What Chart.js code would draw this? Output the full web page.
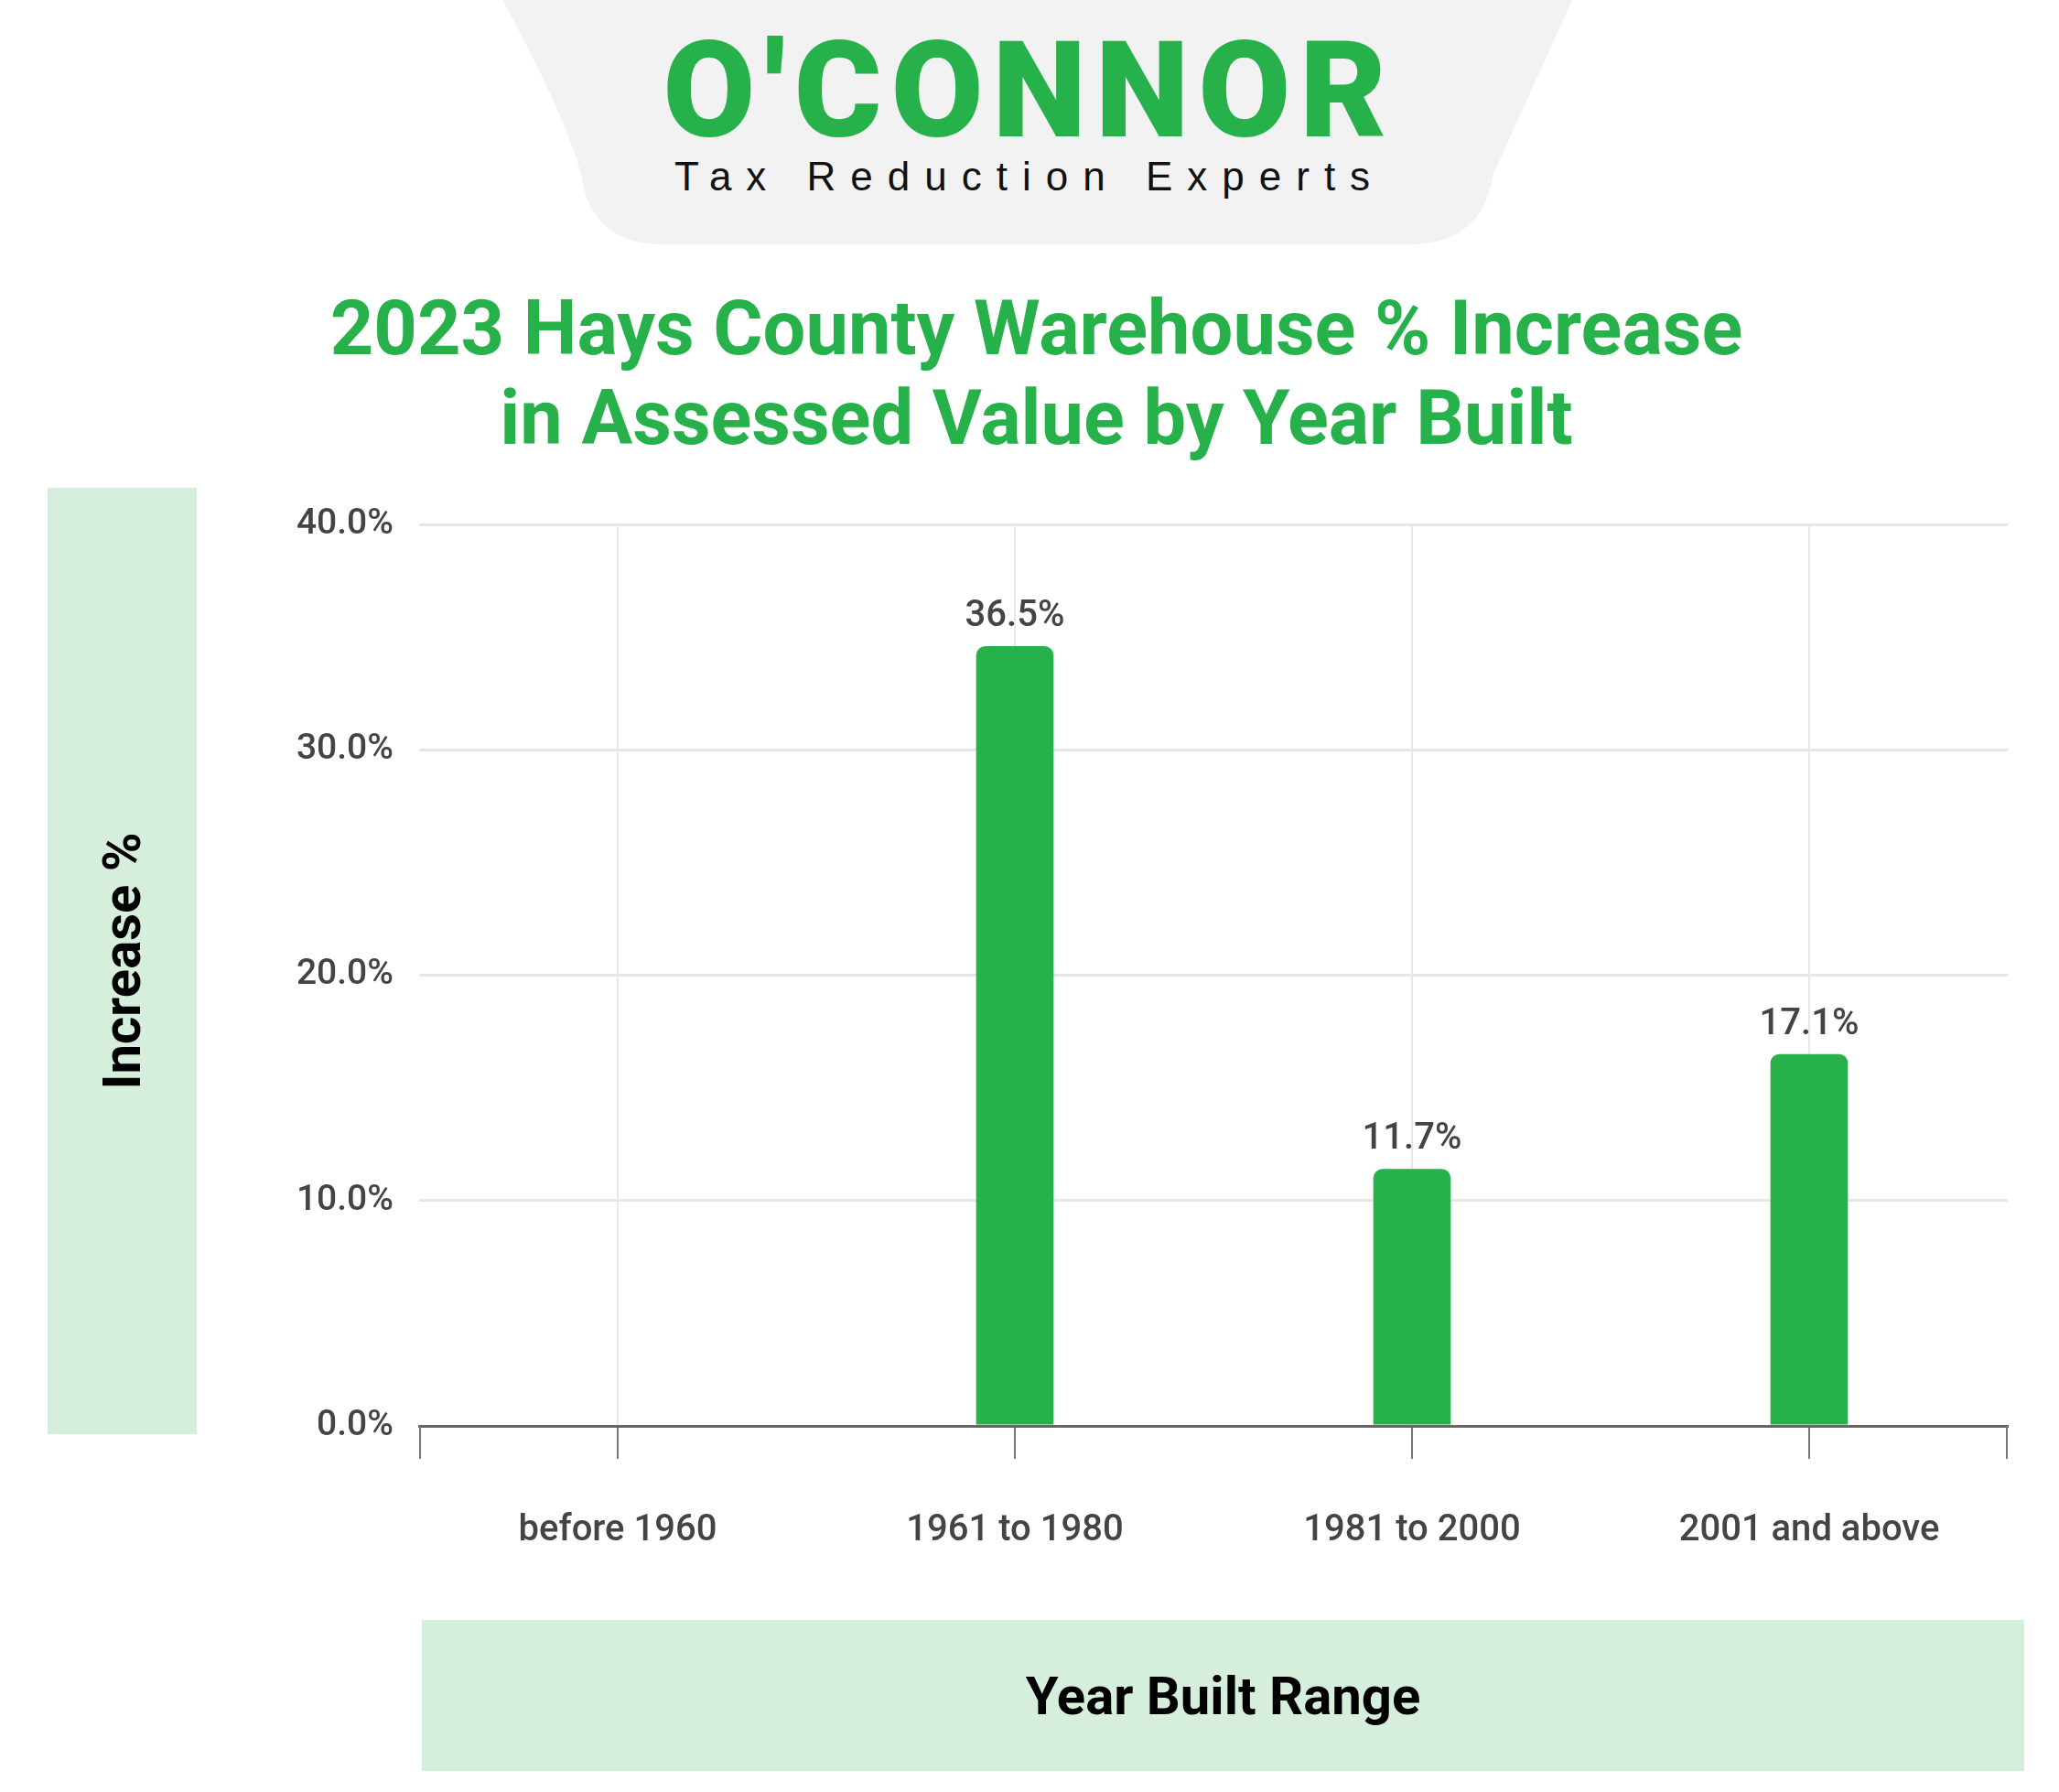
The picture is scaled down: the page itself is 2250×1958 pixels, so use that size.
<!DOCTYPE html>
<html><head><meta charset="utf-8">
<script src="https://cdn.jsdelivr.net/npm/chart.js@4.4.0/dist/chart.umd.min.js"></script>
<style>
html,body{margin:0;padding:0;background:#fff;width:2250px;height:1958px;overflow:hidden;font-family:Roboto,sans-serif}
#c{position:absolute;left:0;top:0}
.abs{position:absolute}
</style></head><body>
<svg class="abs" style="left:0;top:0" width="2250" height="300">
<path d="M549,0 L1718,0 Q1650,150 1632,190 Q1620,267 1540,267 L725,267 Q645,267 635,190 Q615,120 549,0 Z" fill="#f2f2f2"/>
</svg>
<div class="abs" style="left:0;width:2250px;top:20px;text-align:center;color:#26b14b;font:900 146px Roboto;letter-spacing:10px;line-height:160px;padding-left:0px">O'CONNOR</div>
<div class="abs" style="left:0;width:2250px;top:168px;text-align:center;color:#111;font:400 44px 'Liberation Sans';letter-spacing:16px;padding-left:0px">Tax Reduction Experts</div>
<div class="abs" style="left:0;width:2265px;top:310px;text-align:center;color:#26b14b;font:700 83px Roboto;line-height:98px">2023 Hays County Warehouse % Increase<br>in Assessed Value by Year Built</div>
<div class="abs" style="left:52px;top:533px;width:163px;height:1034px;background:#d5efdc"></div>
<div class="abs" style="left:461px;top:1770px;width:1751px;height:165px;background:#d5efdc;display:flex;align-items:center;justify-content:center;font:700 58px Roboto;color:#000">Year Built Range</div>
<div class="abs" style="left:133px;top:1050px;transform:translate(-50%,-50%) rotate(-90deg);font:700 58px Roboto;color:#000;white-space:nowrap">Increase %</div>
<canvas id="c" width="2250" height="1958"></canvas>
<script>
const categories=["before 1960","1961 to 1980","1981 to 2000","2001 and above"];
const barValues=[0,34.6,11.4,16.5];
const barLabels=["","36.5%","11.7%","17.1%"];
const yTicks=[0,10,20,30,40];

const labelPlugin={id:'lbl',afterDatasetsDraw(ch){
  const ctx=ch.ctx,meta=ch.getDatasetMeta(0);
  ctx.save();ctx.font='500 40px Roboto';ctx.fillStyle='#444';ctx.textAlign='center';ctx.textBaseline='bottom';
  meta.data.forEach((b,i)=>{if(barLabels[i])ctx.fillText(barLabels[i],b.x,b.y-12);});
  const a=ch.chartArea;ctx.strokeStyle='#777';ctx.lineWidth=2;
  [a.left+1,a.right-1].forEach(x=>{ctx.beginPath();ctx.moveTo(x,a.bottom);ctx.lineTo(x,a.bottom+36);ctx.stroke();});
  ctx.restore();}};

new Chart(document.getElementById('c'),{
 type:'bar',
 data:{labels:categories,datasets:[{data:barValues,backgroundColor:'#26b14b',barPercentage:0.195,categoryPercentage:1,borderRadius:{topLeft:10,topRight:10},borderSkipped:'bottom'}]},
 options:{responsive:false,animation:false,devicePixelRatio:1,
  layout:{padding:{left:0,top:573,right:56,bottom:200}},
  plugins:{legend:{display:false},tooltip:{enabled:false}},
  scales:{
   x:{offset:true,afterFit(s){s.height=200;},
      grid:{offset:false,color:'#e8e8e8',lineWidth:2,tickColor:'#777',tickLength:36,drawTicks:true},
      border:{color:'#666',width:3},
      ticks:{padding:55,color:'#444',font:{family:'Roboto',size:40,weight:'500'}}},
   y:{min:0,max:40,afterFit(s){s.width=458;},
      afterBuildTicks(s){s.ticks=yTicks.map(v=>({value:v}));},
      grid:{color:'#e6e6e6',lineWidth:3,drawTicks:false},
      border:{display:false},
      ticks:{padding:28,color:'#444',font:{family:'Roboto',size:39,weight:'500'},callback:v=>v.toFixed(1)+'%'}}
  }},
 plugins:[labelPlugin]});
</script>
</body></html>
